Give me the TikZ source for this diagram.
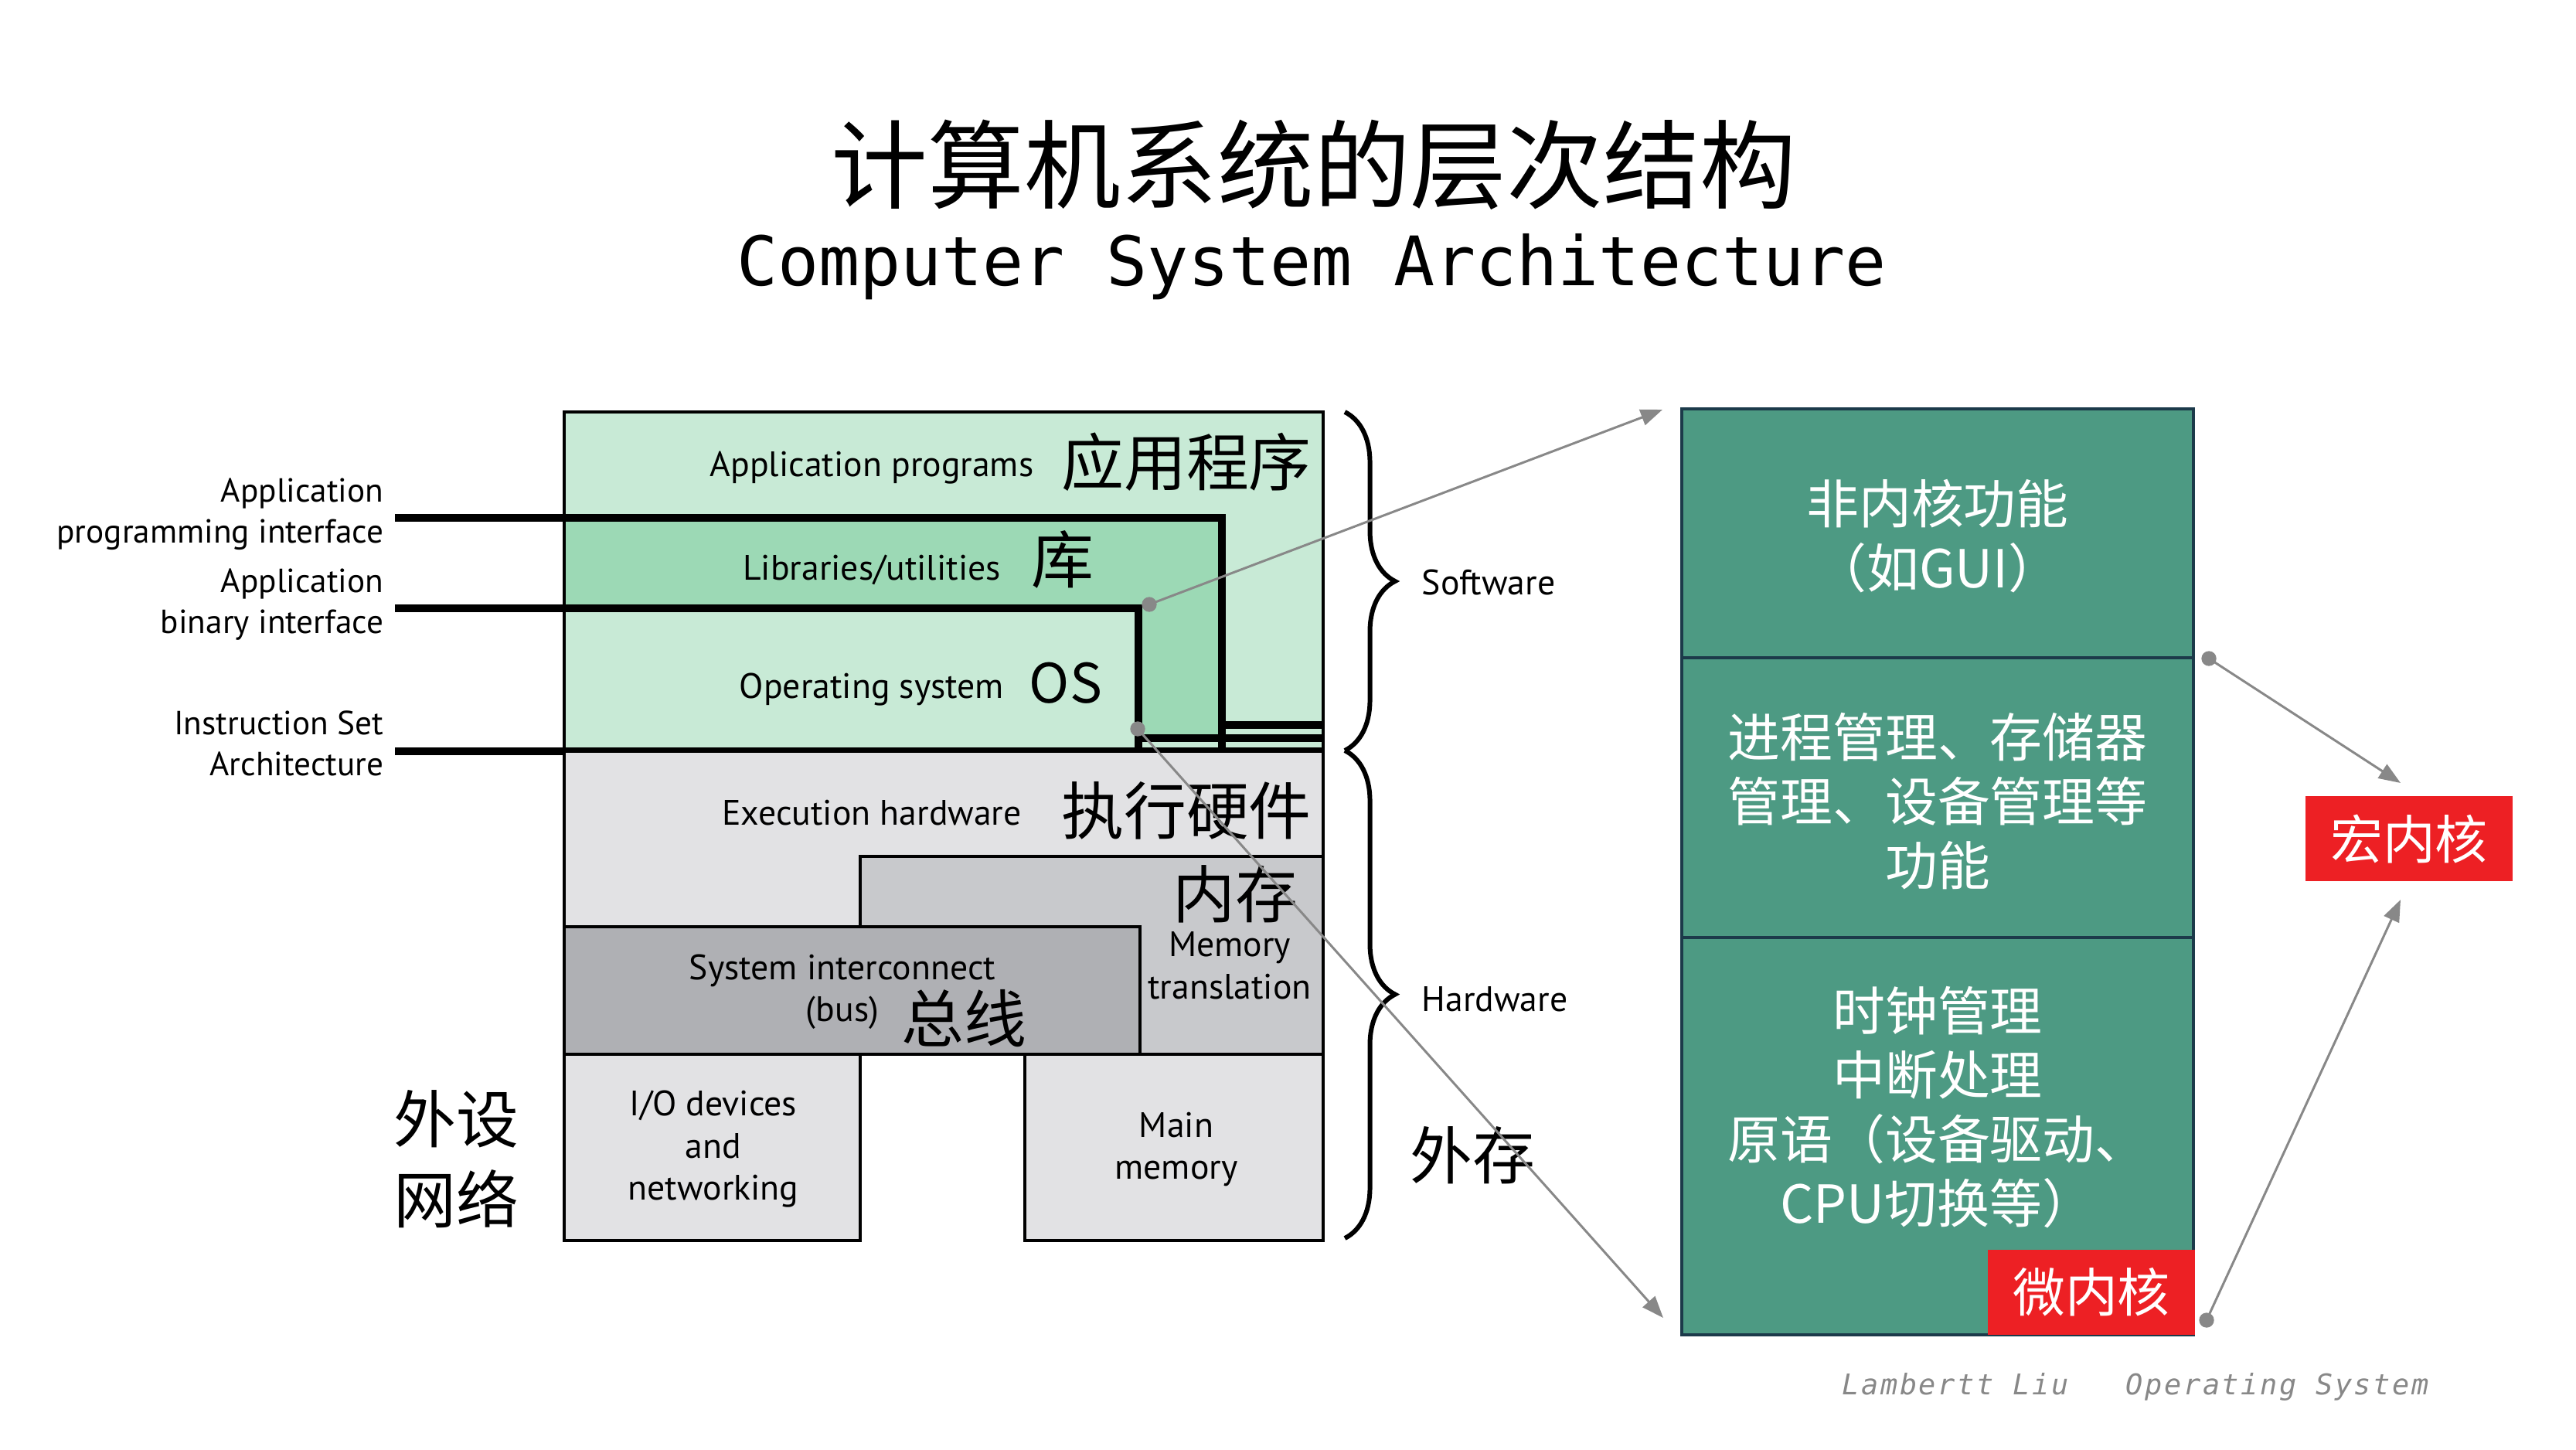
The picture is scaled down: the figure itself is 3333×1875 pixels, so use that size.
\documentclass[tikz,border=0pt]{standalone}
\usepackage{fontspec}
\setmainfont{PT Sans}
\newfontfamily\cjk{Noto Sans CJK SC}
\newfontfamily\titlemono{DejaVu Sans Mono}
\newfontfamily\footmono[LetterSpace=7]{DejaVu Sans Mono}
\usepackage{tikz}
\usetikzlibrary{arrows.meta}
\usetikzlibrary{positioning}
\usetikzlibrary{decorations.pathreplacing}
\definecolor{ccead6}{rgb}{0.784,0.918,0.839}
\definecolor{dgreen}{rgb}{0.612,0.851,0.710}
\definecolor{eeeeee}{rgb}{0.886,0.886,0.894}
\definecolor{cccccc}{rgb}{0.784,0.788,0.800}
\definecolor{bbbbbb}{rgb}{0.686,0.690,0.706}
\definecolor{kgreen}{rgb}{0.302,0.604,0.514}
\definecolor{kborder}{rgb}{0.110,0.227,0.290}
\definecolor{kred}{rgb}{0.929,0.125,0.141}
\definecolor{cgray}{rgb}{0.533,0.533,0.533}

\begin{document}
\begin{tikzpicture}[x=0.01cm,y=-0.01cm,line join=miter,>={Triangle[length=8pt,width=6pt]},
  layer/.style={draw=black,line width=1.2pt},
  iface/.style={line width=2.8pt},
  lbl/.style={font=\fontsize{13}{15.5}\selectfont,align=center,inner sep=0pt},
  side/.style={lbl,font=\fontsize{12.3}{15.2}\selectfont,align=right,anchor=east},
  zh/.style={font=\cjk\fontsize{23}{29.6}\selectfont,align=center,inner sep=0pt},
  hbrace/.style={decorate,decoration={brace,amplitude=0.65cm},line width=1.7pt},
  pointer/.style={draw=cgray,line width=0.85pt,->},
  pdot/.style={circle,fill=cgray,inner sep=0pt,minimum size=5.5pt},
  kpart/.style={draw=kborder,line width=1.2pt,fill=kgreen,minimum width=6.62cm},
  ktext/.style={font=\cjk\fontsize{19.3}{23.6}\selectfont,text=white,align=center,inner sep=0pt},
  redbox/.style={fill=kred,text=white,font=\cjk\fontsize{19.3}{23.6}\selectfont,inner sep=0pt,minimum width=2.68cm,minimum height=1.1cm}]
\fill[white] (0,0) rectangle (3333,1875);
\useasboundingbox (0,0) rectangle (3333,1875);
% title
\node[font=\cjk\fontsize{35.5}{40}\selectfont] (title) at (1700,213) {计算机系统的层次结构};
\node[font=\titlemono\fontsize{25.1}{30}\selectfont] (subtitle) at (1697,345) {Computer System Architecture};
% software layers
\fill[ccead6] (730,533) rectangle (1712,972);
\fill[dgreen] (730,670) -- (1581,670) -- (1581,955) -- (1473,955) -- (1473,787) -- (730,787) -- cycle;
\draw[layer] (730,972) -- (730,533) -- (1712,533) -- (1712,972);
\draw[iface] (511,670) -| (1581,972);
\draw[iface] (1581,938) -- (1712,938);
\draw[iface] (511,787) -| (1473,972);
\draw[iface] (1473,955) -- (1712,955);
\draw[iface] (511,972) -- (1712,972);
% hardware layers
\draw[layer,fill=eeeeee] (730,972) rectangle (1712,1364);
\draw[layer,fill=cccccc] (1113,1108) rectangle (1712,1364);
\draw[layer,fill=bbbbbb] (730,1199) rectangle (1475,1364);
\draw[layer,fill=eeeeee] (730,1364) rectangle (1113,1605);
\draw[layer,fill=eeeeee] (1326,1364) rectangle (1712,1605);
% interface names
\node[side] (api) at (497,665) {Application\\programming interface};
\node[side] (abi) at (497,782) {Application\\binary interface};
\node[side] (isa) at (497,962) {Instruction Set\\Architecture};
% layer names
\node[lbl] (apps) at (1128,605) {Application programs};
\node[zh] (apps-zh) at (1535,598) {应用程序};
\node[lbl] (libs) at (1128,737) {Libraries/utilities};
\node[zh] (libs-zh) at (1375,724) {库};
\node[lbl] (os) at (1128,892) {Operating system};
\node[zh,font=\cjk\fontsize{20}{24}\selectfont] (os-zh) at (1379,884) {OS};
\node[lbl] (exec) at (1128,1052) {Execution hardware};
\node[zh] (exec-zh) at (1535,1049) {执行硬件};
\node[zh] (mem-zh) at (1598,1157) {内存};
\node[lbl] (mmu) at (1591,1249) {Memory\\translation};
\node[lbl] (bus) at (1090,1283) {System interconnect\\(bus)};
\node[zh] (bus-zh) at (1247,1318) {总线};
\node[lbl] (io) at (923,1487) {I/O devices\\and\\networking};
\node[lbl] (mem) at (1522,1487) {Main\\memory};
\node[zh] (io-zh) at (590,1500) {外设\\网络};
\node[zh] (disk-zh) at (1905,1495) {外存};
% braces
\draw[hbrace] (1740,533) -- (1740,971);
\draw[hbrace] (1740,971) -- (1740,1602);
\node[lbl,anchor=west] (sw) at (1839,753) {Software};
\node[lbl,anchor=west] (hw) at (1839,1293) {Hardware};
% kernel panel
\node[kpart,minimum height=3.22cm] (nonkern) at (2507,690) {};
\node[kpart,minimum height=3.62cm] (kserv) at (2507,1032) {};
\node[kpart,minimum height=5.14cm] (kcore) at (2507,1470) {};
\node[ktext] (t1) at (2507,694) {非内核功能\\（如GUI）};
\node[ktext] (t2) at (2507,1037) {进程管理、存储器\\管理、设备管理等\\功能};
\node[ktext] (t3) at (2507,1433) {时钟管理\\中断处理\\原语（设备驱动、\\CPU切换等）};
\node[redbox] (micro) at (2706,1672) {微内核};
\node[redbox] (macro) at (3117,1085) {宏内核};
% pointers
\node[pdot] (d1) at (1487,782) {};
\node[pdot] (d2) at (1472,943) {};
\node[pdot] (d3) at (2858,852) {};
\node[pdot] (d4) at (2855,1708) {};
\coordinate (p1) at (2151,530);
\coordinate (p2) at (2152,1705);
\coordinate (p3) at (3106,1013);
\coordinate (p4) at (3106,1164);
\draw[pointer] (d1.center) -- (p1);
\draw[pointer] (d2.center) -- (p2);
\draw[pointer] (d3.center) -- (p3);
\draw[pointer] (d4.center) -- (p4);
% footer
\node[font=\footmono\itshape\fontsize{10.5}{12}\selectfont,text=cgray,anchor=west,inner sep=0pt] (sign) at (2383,1794) {Lambertt~Liu~~~Operating~System};
\end{tikzpicture}
\end{document}
